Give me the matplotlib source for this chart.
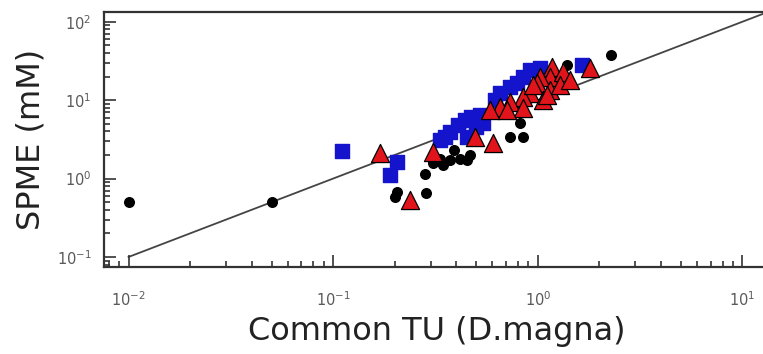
import matplotlib.pyplot as plt
import numpy as np

# values (log-log)
circ_x = [0.01, 0.05, 0.205, 0.20, 0.28, 0.285, 0.307, 0.332, 0.344, 0.372, 0.39,
          0.416, 0.45, 0.466, 0.73, 0.846, 0.818, 1.39, 2.27, 1.2]
circ_y = [0.50, 0.50, 0.68, 0.58, 1.15, 0.66, 1.58, 1.8, 1.48, 1.71, 2.3,
          1.8, 1.71, 1.99, 3.4, 3.4, 5.1, 28, 37.6, 21]

sq_x = [0.111, 0.205, 0.19, 0.332, 0.352, 0.372, 0.406, 0.44, 0.47, 0.521, 0.537,
        0.50, 0.45, 0.617, 0.653, 0.731, 0.791, 0.846, 0.914, 1.02, 1.64]
sq_y = [2.23, 1.61, 1.10, 3.1, 3.4, 3.9, 4.8, 5.6, 6.1, 6.4, 5.1,
        4.6, 3.4, 10.0, 12.3, 14.7, 16.5, 19.7, 24.2, 26, 28]

tri_x = [0.169, 0.237, 0.307, 0.493, 0.603, 1.79, 1.18, 1.15, 1.33, 1.02, 0.989, 1.15,
         0.914, 0.846, 0.731, 0.653, 0.846, 0.706, 1.28, 1.06, 1.43, 0.583, 0.946, 1.11]
tri_y = [2.1, 0.53, 2.17, 3.4, 2.83, 25.6, 26.4, 19.7, 22.8, 19.7, 16.5, 13.4,
         12.3, 10.9, 9.4, 8.1, 7.9, 7.4, 15.6, 10.0, 18.0, 7.4, 15.6, 11.6]

line_x = [0.01, 20]
line_y = [0.1, 200]

fig = plt.figure(figsize=(7.63, 3.54), dpi=100)
ax = fig.add_axes([104 / 763, 87 / 354, 665 / 763, 255.3 / 354])

ax.plot(line_x, line_y, color="#444444", lw=1.3, zorder=1)
ax.scatter(circ_x, circ_y, s=48, color="black", zorder=2)
ax.scatter(sq_x, sq_y, s=110, marker="s", color="#1414cc", zorder=3)
ax.scatter(tri_x, tri_y, s=170, marker="^", color="#e0141a",
           edgecolor="black", linewidth=0.9, zorder=4)

ax.set_xscale("log")
ax.set_yscale("log")
ax.set_xlim(10 ** -2.12, 10 ** 1.13)
ax.set_ylim(10 ** -1.128, 10 ** 2.128)

for s in ax.spines.values():
    s.set_linewidth(1.6)
    s.set_color("#333333")

ax.tick_params(which="both", direction="in", top=False, right=False,
               color="#333333", width=1.2, labelcolor="#5a5a5a", labelsize=10.5)
ax.tick_params(which="major", length=8.5)
ax.tick_params(which="minor", length=4)
ax.tick_params(axis="x", which="major", pad=17)
ax.tick_params(axis="y", which="major", pad=9)

ax.set_xlabel("Common TU (D.magna)", fontsize=23, color="#222222", labelpad=5)
ax.set_ylabel("SPME (mM)", fontsize=23, color="#222222", labelpad=7)

fig.savefig("out.png", dpi=100)
